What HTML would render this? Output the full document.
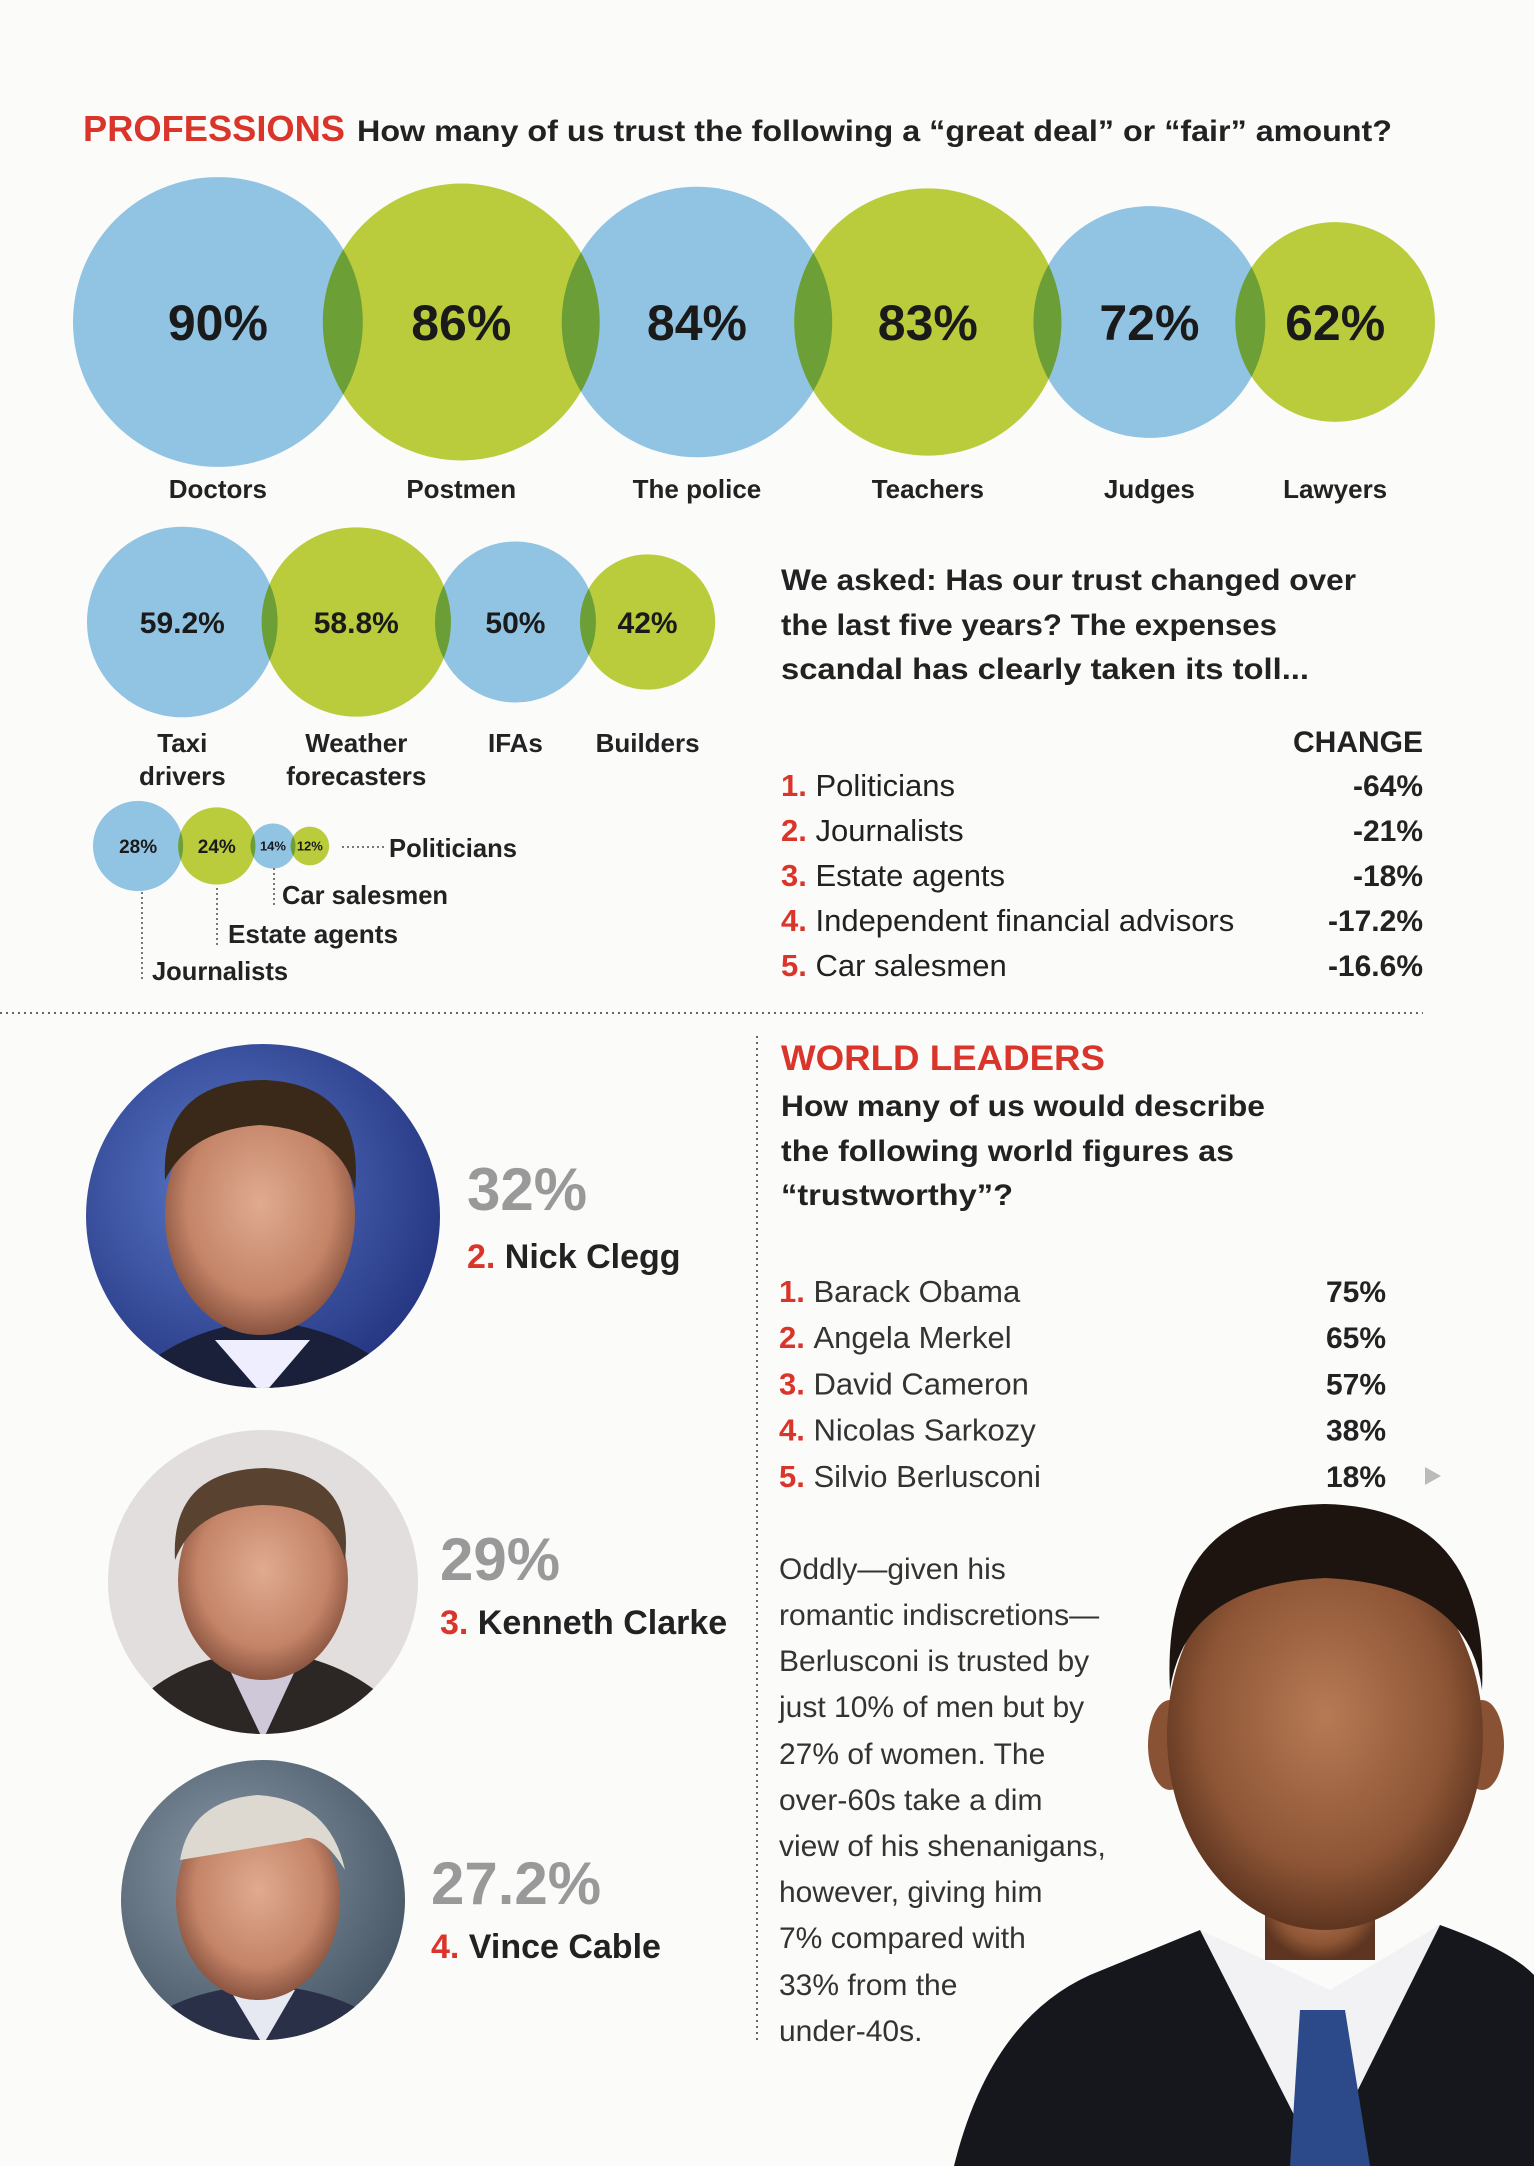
<!DOCTYPE html>
<html><head><meta charset="utf-8"><style>
html,body{margin:0;padding:0;background:#fbfbfa;}
svg{display:block;font-family:"Liberation Sans",sans-serif;}
</style></head><body>
<svg id="chart" width="1534" height="2166" viewBox="0 0 1534 2166" xmlns="http://www.w3.org/2000/svg">
<defs>
<radialGradient id="skin" cx="50%" cy="45%" r="55%"><stop offset="0" stop-color="#e0ab90"/><stop offset="0.7" stop-color="#c48468"/><stop offset="1" stop-color="#8a5440"/></radialGradient>
<radialGradient id="skinO" cx="50%" cy="45%" r="55%"><stop offset="0" stop-color="#b77a55"/><stop offset="0.7" stop-color="#8e5636"/><stop offset="1" stop-color="#5e3520"/></radialGradient>
<radialGradient id="bgClegg" cx="40%" cy="40%" r="70%"><stop offset="0" stop-color="#5a79c9"/><stop offset="1" stop-color="#1e2d78"/></radialGradient>
<radialGradient id="bgCable" cx="40%" cy="40%" r="70%"><stop offset="0" stop-color="#8a9aa8"/><stop offset="1" stop-color="#3d4d5c"/></radialGradient>
<clipPath id="c1"><ellipse cx="263" cy="1216" rx="177" ry="172"/></clipPath>
<clipPath id="c2"><ellipse cx="263" cy="1582" rx="155" ry="152"/></clipPath>
<clipPath id="c3"><ellipse cx="263" cy="1900" rx="142" ry="140"/></clipPath>
</defs>

<g>
<text x="83" y="141" font-size="36" font-weight="bold" fill="#d9352b" textLength="262" lengthAdjust="spacingAndGlyphs">PROFESSIONS</text>
<text x="357" y="141" font-size="30" font-weight="bold" fill="#222" textLength="1035" lengthAdjust="spacingAndGlyphs">How many of us trust the following a “great deal” or “fair” amount?</text>
</g>
<g id="bubbles"></g>

<g font-size="26" font-weight="bold" fill="#222" stroke="#777" stroke-width="2" stroke-dasharray="2,3">
<line x1="342" y1="847" x2="384" y2="847"/>
<line x1="274" y1="868" x2="274" y2="905"/>
<line x1="217" y1="888" x2="217" y2="945"/>
<line x1="142" y1="892" x2="142" y2="980"/>
<text x="389" y="857" stroke="none" textLength="128" lengthAdjust="spacingAndGlyphs">Politicians</text>
<text x="282" y="904" stroke="none" textLength="166" lengthAdjust="spacingAndGlyphs">Car salesmen</text>
<text x="228" y="943" stroke="none" textLength="170" lengthAdjust="spacingAndGlyphs">Estate agents</text>
<text x="152" y="980" stroke="none" textLength="136" lengthAdjust="spacingAndGlyphs">Journalists</text>
</g>

<g font-size="30" font-weight="bold" fill="#222">
<text x="781" y="590" textLength="575" lengthAdjust="spacingAndGlyphs">We asked: Has our trust changed over</text>
<text x="781" y="635" textLength="496" lengthAdjust="spacingAndGlyphs">the last five years? The expenses</text>
<text x="781" y="679" textLength="528" lengthAdjust="spacingAndGlyphs">scandal has clearly taken its toll...</text>
<text x="1423" y="752" text-anchor="end" font-size="30">CHANGE</text>
</g>
<g id="changeList"></g>

<line x1="0" y1="1013" x2="1423" y2="1013" stroke="#666" stroke-width="2" stroke-dasharray="2,4"/>
<line x1="757" y1="1036" x2="757" y2="2043" stroke="#666" stroke-width="2" stroke-dasharray="2,4"/>

<g>
<text x="781" y="1070" font-size="35" font-weight="bold" fill="#d9352b" textLength="324" lengthAdjust="spacingAndGlyphs">WORLD LEADERS</text>
<g font-size="30" font-weight="bold" fill="#222">
<text x="781" y="1116" textLength="484" lengthAdjust="spacingAndGlyphs">How many of us would describe</text>
<text x="781" y="1161" textLength="453" lengthAdjust="spacingAndGlyphs">the following world figures as</text>
<text x="781" y="1205" textLength="232" lengthAdjust="spacingAndGlyphs">“trustworthy”?</text>
</g></g>
<g id="leaderList"></g>
<polygon points="1425,1467 1425,1485 1441,1476" fill="#bbb"/>

<g>
<path d="M954,2166 Q990,2020 1090,1975 L1200,1930 L1320,2000 L1440,1925 Q1510,1950 1534,1975 L1534,2166 Z" fill="#15171c"/>
<path d="M1200,1930 L1320,2166 L1440,1925 L1330,1990 Z" fill="#f2f2f4"/>
<path d="M1300,2010 L1345,2010 L1370,2166 L1290,2166 Z" fill="#2c4a8a"/>
<rect x="1265" y="1860" width="110" height="100" fill="url(#skinO)"/>
<ellipse cx="1170" cy="1745" rx="22" ry="45" fill="#8a5234"/>
<ellipse cx="1482" cy="1745" rx="22" ry="45" fill="#8a5234"/>
<ellipse cx="1325" cy="1735" rx="158" ry="195" fill="url(#skinO)"/>
<path d="M1170,1690 Q1160,1506 1325,1504 Q1490,1508 1482,1690 Q1470,1585 1325,1578 Q1185,1585 1170,1690Z" fill="#1d1410"/>
</g>

<g font-size="30" fill="#333">
<text x="779" y="1579">Oddly—given his</text>
<text x="779" y="1625">romantic indiscretions—</text>
<text x="779" y="1671">Berlusconi is trusted by</text>
<text x="779" y="1717">just 10% of men but by</text>
<text x="779" y="1764">27% of women. The</text>
<text x="779" y="1810">over-60s take a dim</text>
<text x="779" y="1856">view of his shenanigans,</text>
<text x="779" y="1902">however, giving him</text>
<text x="779" y="1948">7% compared with</text>
<text x="779" y="1995">33% from the</text>
<text x="779" y="2041">under-40s.</text>
</g>

<g clip-path="url(#c1)">
<rect x="80" y="1040" width="370" height="360" fill="url(#bgClegg)"/>
<path d="M120,1390 Q170,1330 263,1320 Q360,1330 410,1390 Z" fill="#1a1f3a"/>
<path d="M215,1340 L263,1395 L310,1340 Z" fill="#eef"/>
<ellipse cx="260" cy="1215" rx="95" ry="120" fill="url(#skin)"/>
<path d="M165,1180 Q160,1080 265,1080 Q365,1085 355,1190 Q340,1130 260,1125 Q190,1130 165,1180Z" fill="#3a2818"/>
</g>
<g clip-path="url(#c2)">
<rect x="100" y="1420" width="330" height="320" fill="#e2dedd"/>
<path d="M110,1740 Q150,1660 263,1650 Q370,1660 420,1740 Z" fill="#2c2624"/>
<path d="M225,1660 L263,1740 L300,1660 Z" fill="#cfc8d8"/>
<ellipse cx="263" cy="1580" rx="85" ry="100" fill="url(#skin)"/>
<path d="M175,1560 Q170,1470 265,1468 Q355,1472 345,1560 Q330,1505 262,1505 Q195,1508 175,1560Z" fill="#5a4230"/>
</g>
<g clip-path="url(#c3)">
<rect x="110" y="1750" width="310" height="300" fill="url(#bgCable)"/>
<path d="M120,2050 Q160,1990 263,1985 Q360,1990 410,2050 Z" fill="#2a3048"/>
<path d="M230,1990 L263,2045 L295,1990 Z" fill="#e6e8f2"/>
<ellipse cx="258" cy="1900" rx="82" ry="100" fill="url(#skin)"/>
<path d="M180,1860 Q190,1800 258,1795 Q330,1800 345,1870 Q320,1830 300,1840 Z" fill="#ddd8d0"/>
</g>

<g>
<text x="467" y="1210" font-size="60" font-weight="bold" fill="#999">32%</text>
<text x="467" y="1268" font-size="34" font-weight="bold" fill="#222"><tspan fill="#d9352b">2.</tspan> Nick Clegg</text>
<text x="440" y="1580" font-size="60" font-weight="bold" fill="#999">29%</text>
<text x="440" y="1634" font-size="34" font-weight="bold" fill="#222"><tspan fill="#d9352b">3.</tspan> Kenneth Clarke</text>
<text x="431" y="1904" font-size="60" font-weight="bold" fill="#999">27.2%</text>
<text x="431" y="1958" font-size="34" font-weight="bold" fill="#222"><tspan fill="#d9352b">4.</tspan> Vince Cable</text>
</g>

<script>
var row1Labels = ["Doctors","Postmen","The police","Teachers","Judges","Lawyers"];
var row1Values = [90,86,84,83,72,62];
var row2Labels = [["Taxi","drivers"],["Weather","forecasters"],["IFAs"],["Builders"]];
var row2Values = [59.2,58.8,50,42];
var row3Values = [28,24,14,12];
var changeLabels = ["Politicians","Journalists","Estate agents","Independent financial advisors","Car salesmen"];
var changeValues = ["-64%","-21%","-18%","-17.2%","-16.6%"];
var leaderLabels = ["Barack Obama","Angela Merkel","David Cameron","Nicolas Sarkozy","Silvio Berlusconi"];
var leaderValues = ["75%","65%","57%","38%","18%"];

var NS = "http://www.w3.org/2000/svg";
var K = 1.61; // radius per percentage point
function rOf(v){ return v * K; }
function mk(tag, attrs, parent){ var e = document.createElementNS(NS, tag); for (var k in attrs) e.setAttribute(k, attrs[k]); parent.appendChild(e); return e; }
var g = document.getElementById("bubbles");

function drawRow(values, left, cy, overlaps, fontSize, labels, labelY){
  var x = left;
  values.forEach(function(v, i){
    var r = rOf(v);
    var cx = (i === 0) ? x + r : x + r - overlaps[Math.min(i - 1, overlaps.length - 1)];
    var c = mk("circle", {cx: cx, cy: cy, r: r, fill: i % 2 ? "#bdd03c" : "#93c6e8", style: "mix-blend-mode:multiply"}, g);
    
    
    var fs = typeof fontSize === "function" ? fontSize(v) : fontSize;
    var t = mk("text", {x: cx, y: cy + fs * 0.36, "text-anchor": "middle", "font-size": fs, "font-weight": "bold", fill: "#1a1a1a"}, g);
    t.textContent = v + "%";
    
    
    if (labels) {
      var lab = [].concat(labels[i]);
      lab.forEach(function(s, j){
        var l = mk("text", {x: cx, y: labelY + j * 33, "text-anchor": "middle", "font-size": 26, "font-weight": "bold", fill: "#222"}, g);
        l.textContent = s;
        
        
      });
    }
    x = cx + r;
  });
}
drawRow(row1Values, 73, 322, [40, 38, 38, 28, 30], 50, row1Labels, 498);
drawRow(row2Values, 87, 622, [16], 30, row2Labels, 752);
drawRow(row3Values, 93, 846, [5], function(v){ return v >= 20 ? 19 : 13; }, null, 0);

var cl = document.getElementById("changeList");
changeLabels.forEach(function(s, i){
  var y = 796 + i * 45;
  var t = mk("text", {x: 781, y: y, "font-size": 31, fill: "#222"}, cl);
  var n = mk("tspan", {fill: "#d9352b", "font-weight": "bold"}, t); n.textContent = (i + 1) + ". ";
  var m = mk("tspan", {}, t); m.textContent = s;
  
  
  var v = mk("text", {x: 1423, y: y, "text-anchor": "end", "font-size": 30, "font-weight": "bold", fill: "#222"}, cl);
  v.textContent = changeValues[i];
  
  
});

var ll = document.getElementById("leaderList");
leaderLabels.forEach(function(s, i){
  var y = 1302 + i * 46.2;
  var t = mk("text", {x: 779, y: y, "font-size": 31, fill: "#333"}, ll);
  var n = mk("tspan", {fill: "#d9352b", "font-weight": "bold"}, t); n.textContent = (i + 1) + ". ";
  var m = mk("tspan", {}, t); m.textContent = s;
  
  
  var v = mk("text", {x: 1386, y: y, "text-anchor": "end", "font-size": 30, "font-weight": "bold", fill: "#222"}, ll);
  v.textContent = leaderValues[i];
  
  
});
</script>
</svg>
</body></html>
